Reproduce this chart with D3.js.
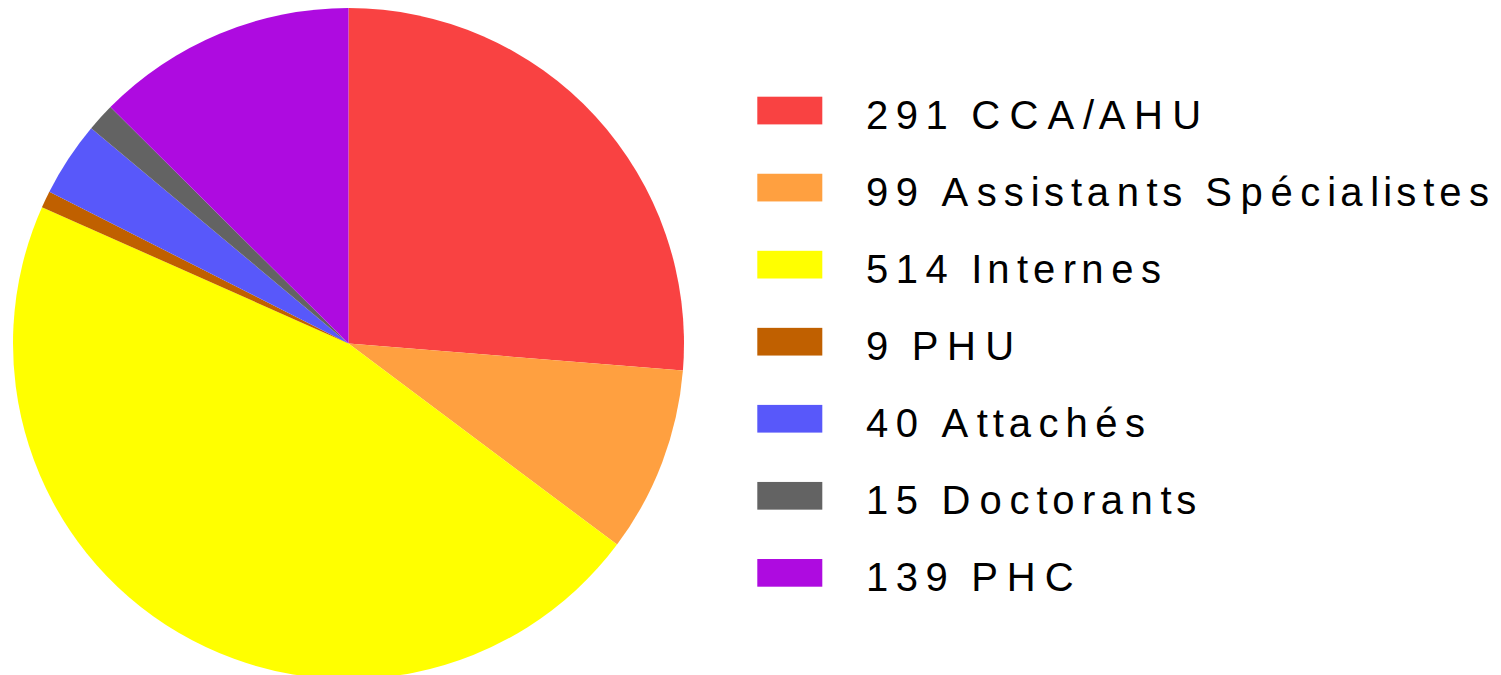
<!DOCTYPE html>
<html><head><meta charset="utf-8">
<script src="https://cdn.jsdelivr.net/npm/d3@7"></script>
<style>body{margin:0;background:#fff}</style>
</head><body>
<svg id="c" width="1501" height="675"></svg>
<script>
const labels = ["291 CCA/AHU","99 Assistants Spécialistes","514 Internes","9 PHU","40 Attachés","15 Doctorants","139 PHC"];
const values = [291,99,514,9,40,15,139];
const colors = ["#F94242","#FFA040","#FFFF00","#C06000","#5858FA","#636363","#AE0BE0"];

const svg = d3.select("#c");
const cx = 348.5, cy = 343.5, r = 335.5;
const pie = d3.pie().sort(null).value(d => d)(values);
const arc = d3.arc().innerRadius(0).outerRadius(r);
svg.append("g").attr("transform",`translate(${cx},${cy})`)
  .selectAll("path").data(pie).join("path")
  .attr("d", arc).attr("fill",(d,i)=>colors[i]);

const y = d3.scalePoint().domain(d3.range(labels.length)).range([110.5, 572.8]);
const lg = svg.append("g");
lg.selectAll("rect").data(labels).join("rect")
  .attr("x",757.3).attr("y",(d,i)=>y(i)-13.8).attr("width",65).attr("height",27.7)
  .attr("fill",(d,i)=>colors[i]);

// character placement: glyphs drawn at 40px, advances as in the reference's wider layout
const ctx = document.createElement("canvas").getContext("2d");
ctx.font = "50px 'Liberation Sans'";
const track = 2.0, x0 = 866;
function charXs(s){
  const ch = Array.from(s); const xs = [];
  for (let i=0;i<ch.length;i++){
    xs.push((x0 + ctx.measureText(ch.slice(0,i).join("")).width + i*track).toFixed(2));
  }
  return xs.join(" ");
}
lg.selectAll("text").data(labels).join("text")
  .attr("x",d=>charXs(d)).attr("y",(d,i)=>y(i)+18.5)
  .attr("font-family","Liberation Sans, Arial, sans-serif")
  .attr("font-size",40)
  .attr("fill","#000").text(d=>d);
</script>
</body></html>
